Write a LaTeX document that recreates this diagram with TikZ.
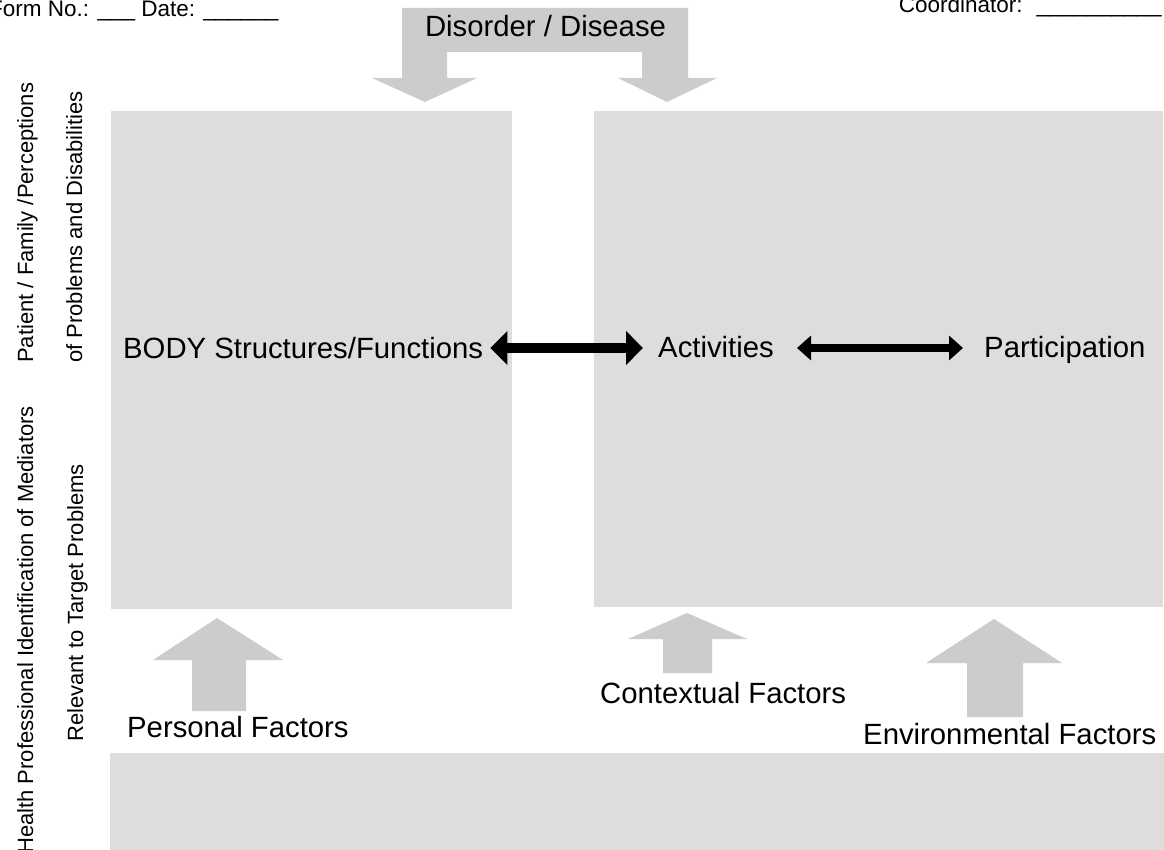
\documentclass[tikz,border=0pt]{standalone}
\usepackage{fontspec}
\setmainfont{Liberation Sans}
\usetikzlibrary{arrows.meta}
\definecolor{boxgray}{RGB}{221,221,221}
\definecolor{arrgray}{RGB}{204,204,204}
\begin{document}
\begin{tikzpicture}[x=1pt,y=-1pt,
  panel/.style={fill=boxgray,draw=none},
  blockarrow/.style={fill=arrgray,draw=none},
  bigtxt/.style={inner sep=0pt,font=\fontsize{29.3}{33}\selectfont},
  smalltxt/.style={inner sep=0pt,font=\fontsize{22.5}{26}\selectfont},
  vtxt/.style={inner sep=0pt,font=\fontsize{22}{26}\selectfont,rotate=90,anchor=base west},
  bigdbl/.style={line width=10pt,{Triangle[length=17pt,width=33pt]}-{Triangle[length=17pt,width=33pt]}},
  smalldbl/.style={line width=8pt,{Triangle[length=14pt,width=24pt]}-{Triangle[length=14pt,width=24pt]}}
]
\useasboundingbox (0,0) rectangle (1164,850);
\fill[white] (0,0) rectangle (1164,850);

% panels
\fill[panel] (111,111) rectangle (512,609);
\fill[panel] (594,111) rectangle (1163,607);
\fill[panel] (110,753) rectangle (1164,850);

% top block arrow
\fill[blockarrow] (402,8) -- (688,8) -- (688,78) -- (717,78) -- (667,102) -- (618,78) -- (642,78)
  -- (642,52) -- (447,52) -- (447,78) -- (477,78) -- (425,102) -- (372,78) -- (402,78) -- cycle;

% bottom block arrows
\fill[blockarrow] (217,618) -- (283,660) -- (246,660) -- (246,711) -- (192,711) -- (192,660) -- (153,660) -- cycle;
\fill[blockarrow] (687,613) -- (747,639) -- (712,639) -- (712,673) -- (663,673) -- (663,639) -- (628,639) -- cycle;
\fill[blockarrow] (994,619) -- (1062,663) -- (1023,663) -- (1023,717) -- (967,717) -- (967,663) -- (926,663) -- cycle;

% header texts
\node[smalltxt,anchor=base west] (form) at (-11,17) {Form No.: \_\_\_ Date: \_\_\_\_\_\_};
\node[smalltxt,anchor=base east] (coord) at (1162,13) {Coordinator:\hspace{14pt}\_\_\_\_\_\_\_\_\_\_};
\node[bigtxt,anchor=base] (disorder) at (545.5,37) {Disorder / Disease};

% vertical side texts
\node[vtxt] (patient) at (33,363) {Patient / Family /Perceptions};
\node[vtxt] (problems) at (82,363) {of Problems and Disabilities};
\node[vtxt] (health) at (33,854) {Health Professional Identification of Mediators};
\node[vtxt] (relevant) at (83,742) {Relevant to Target Problems};

% main row
\node[bigtxt,anchor=base west] (body) at (123,358) {BODY Structures/Functions};
\node[bigtxt,anchor=base west] (act) at (658,357) {Activities};
\node[bigtxt,anchor=base west] (part) at (984,357) {Participation};

\draw[bigdbl] ([xshift=7pt,yshift=10pt]body.base east) -- ([xshift=-15pt,yshift=10pt]body.base east -| act.base west);
\draw[smalldbl] ([xshift=23pt,yshift=9pt]act.base east) -- ([xshift=-21pt,yshift=9pt]act.base east -| part.base west);

% factor labels
\node[bigtxt,anchor=base west] (personal) at (127,737) {Personal Factors};
\node[bigtxt,anchor=base west] (contextual) at (600,703) {Contextual Factors};
\node[bigtxt,anchor=base west] (environmental) at (863,744) {Environmental Factors};
\end{tikzpicture}
\end{document}
